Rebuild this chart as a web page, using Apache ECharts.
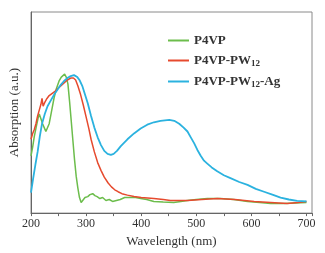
<!DOCTYPE html>
<html>
<head>
<meta charset="utf-8">
<script src="https://cdn.jsdelivr.net/npm/echarts@6/dist/echarts.min.js"></script>
<style>
  html, body { margin: 0; padding: 0; background: #fff; }
  #chart { width: 325px; height: 253px; }
</style>
</head>
<body>
<div id="chart"></div>
<script>
// 数据 (读图估计, 纵轴为任意单位)
var p4vp = [
  [200, 59], [203, 68], [206, 79], [210, 90], [213, 98], [215, 102], [218, 97],
  [221, 92], [224, 88], [227, 84], [230, 86], [233, 92], [237, 104], [242, 119],
  [246, 128], [251, 136], [255, 140], [258, 142], [261, 143], [264, 140], [267, 133],
  [270, 115], [273, 95], [276, 75], [279, 55], [282, 38], [285, 26], [288, 16],
  [291, 11], [294, 13], [298, 16], [303, 17], [307, 19], [312, 20], [316, 18],
  [320, 17], [325, 15], [330, 16], [336, 13], [342, 14], [348, 12], [355, 13],
  [362, 14], [370, 16], [381, 16], [390, 16], [399, 15], [410, 14], [423, 12],
  [440, 11.5], [459, 11], [472, 12], [484, 13], [500, 14], [520, 15], [544, 15],
  [568, 14], [593, 12], [615, 11], [635, 10], [660, 10], [680, 10.5], [700, 11]
];
var p4vpPW12 = [
  [200, 76], [203, 82], [206, 86], [209, 92], [212, 100], [215, 106], [218, 112],
  [220, 118], [222, 110], [225, 114], [229, 118], [233, 121], [238, 123], [243, 125],
  [248, 128], [254, 131], [260, 134], [266, 137], [272, 139], [277, 139], [281, 137],
  [285, 131], [290, 122], [295, 111], [300, 99], [305, 87], [309, 76], [315, 63],
  [321, 52], [327, 44], [333, 37], [340, 31], [346, 27], [352, 24], [358, 22],
  [365, 20], [375, 18.5], [387, 17], [400, 16], [423, 15], [440, 14], [453, 13],
  [484, 13], [510, 14], [538, 15], [570, 14], [605, 12], [635, 11], [665, 10],
  [685, 11], [700, 12]
];
var p4vpPW12Ag = [
  [200, 21], [204, 36], [208, 50], [212, 63], [216, 79], [220, 92], [225, 102],
  [230, 110], [236, 116], [242, 122], [248, 127], [254, 132], [260, 136], [266, 139],
  [272, 141], [278, 142], [284, 140], [288, 137], [293, 131], [298, 122], [303, 113],
  [309, 100], [315, 88], [321, 78], [327, 70], [333, 64], [339, 61], [345, 60],
  [350, 61], [356, 64], [363, 69], [375, 76], [387, 82], [399, 87], [411, 91],
  [423, 93.5], [435, 95], [451, 96], [460, 95], [469, 92], [477, 88], [484, 84],
  [490, 78], [496, 72], [502, 65], [508, 59], [514, 54], [520, 51], [528, 47],
  [538, 43], [550, 39], [562, 36], [578, 32], [593, 29], [608, 25], [623, 22],
  [638, 19], [653, 16], [668, 14], [683, 12.5], [700, 12]
];
var xTicks = [200, 300, 400, 500, 600, 700];

var myChart = echarts.init(document.getElementById('chart'));
var serif = 'Liberation Serif';

var option = {
  animation: false,
  grid: { left: 30, right: 13, top: 12, bottom: 34, show: true, borderColor: '#8a8a8a', borderWidth: 1 },
  legend: {
    orient: 'vertical',
    left: 163,
    top: 29,
    icon: 'rect',
    itemWidth: 21,
    itemHeight: 2,
    itemGap: 7,
    data: ['P4VP', 'P4VP-PW12', 'P4VP-PW12-Ag'],
    formatter: function (name) {
      if (name == 'P4VP-PW12') return '{a|P4VP-PW}{s|12}';
      if (name == 'P4VP-PW12-Ag') return '{a|P4VP-PW}{s|12}{a|-Ag}';
      return '{a|' + name + '}';
    },
    textStyle: {
      rich: {
        a: { fontFamily: serif, fontSize: 13, fontWeight: 'bold', color: '#333', height: 15 },
        s: { fontFamily: serif, fontSize: 9, fontWeight: 'bold', color: '#333', padding: [6, 0, 0, 0] }
      }
    }
  },
  xAxis: {
    type: 'value',
    min: 200,
    max: 710,
    interval: 100,
    name: 'Wavelength (nm)',
    nameLocation: 'middle',
    nameGap: 18,
    nameTextStyle: { fontFamily: serif, fontSize: 13, color: '#333' },
    axisLine: { lineStyle: { color: '#666' } },
    axisTick: { length: 3, lineStyle: { color: '#666' } },
    minorTick: { show: true, splitNumber: 2, length: 3, lineStyle: { color: '#666' } },
    splitLine: { show: false },
    axisLabel: {
      fontFamily: serif, fontSize: 12, color: '#333', margin: 5,
      formatter: function (v) { return xTicks.indexOf(v) >= 0 ? v : ''; }
    }
  },
  yAxis: {
    type: 'value',
    min: 0,
    max: 207,
    name: 'Absorption (a.u.)',
    nameLocation: 'middle',
    nameGap: 10,
    nameTextStyle: { fontFamily: serif, fontSize: 13, color: '#333' },
    axisLine: { show: true, lineStyle: { color: '#666' } },
    axisTick: { show: false },
    axisLabel: { show: false },
    splitLine: { show: false }
  },
  series: [
    { name: 'P4VP', type: 'line', data: p4vp, symbol: 'none', lineStyle: { width: 1.5, color: '#6cbd4c' }, itemStyle: { color: '#6cbd4c' } },
    { name: 'P4VP-PW12', type: 'line', data: p4vpPW12, symbol: 'none', lineStyle: { width: 1.5, color: '#e64a2e' }, itemStyle: { color: '#e64a2e' } },
    { name: 'P4VP-PW12-Ag', type: 'line', data: p4vpPW12Ag, symbol: 'none', lineStyle: { width: 1.8, color: '#2bb2df' }, itemStyle: { color: '#2bb2df' } }
  ]
};
myChart.setOption(option);
</script>
</body>
</html>
